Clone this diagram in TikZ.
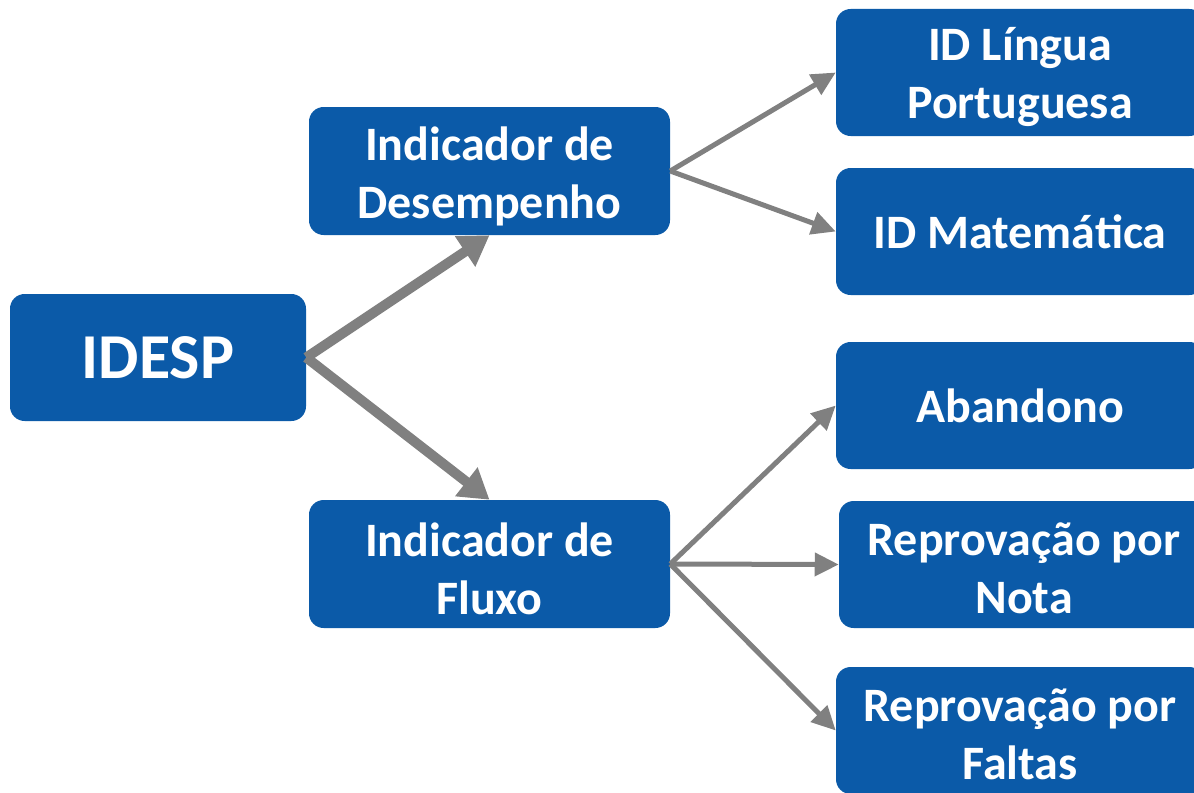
\documentclass[tikz,border=0pt]{standalone}
\usepackage{fontspec}
\setmainfont{Carlito}
\usetikzlibrary{arrows.meta}
\definecolor{boxblue}{RGB}{11,90,168}
\definecolor{arrgray}{RGB}{128,128,128}
\begin{document}
\begin{tikzpicture}[x=0.75pt,y=-0.75pt,
  box/.style={fill=boxblue, rounded corners=11pt, text=white, font=\bfseries\fontsize{36}{43.5}\selectfont, align=center, inner sep=0pt, minimum height=95.25pt},
  midbox/.style={box, minimum width=270.75pt, minimum height=96pt},
  leafbox/.style={box, minimum width=276pt},
  lbl/.style={text=white, font=\bfseries\fontsize{36}{43.5}\selectfont, align=center, inner sep=0pt},
  bigarr/.style={draw=arrgray, line width=7.5pt, -{Triangle[length=22pt,width=26pt]}},
  smallarr/.style={draw=arrgray, line width=3.75pt, -{Triangle[length=18pt,width=17pt]}}]
\useasboundingbox (0,0) rectangle (1194,792);
\begin{scope}
\clip (0,0) rectangle (1194,792);
\node[box, minimum width=222pt, font=\bfseries\fontsize{48}{58}\selectfont] (idesp) at (158,357.5) {IDESP};
\node[midbox] (des) at (489.5,171) {};
\node[lbl] (des-t) at ([yshift=-3.75pt]des.center) {Indicador de\\Desempenho};
\node[midbox] (flu) at (489.5,564) {};
\node[lbl] (flu-t) at ([yshift=-3.75pt]flu.center) {Indicador de\\Fluxo};
\node[leafbox] (lin) at (1020,72.5) {};
\node[lbl] (lin-t) at ([yshift=-3pt]lin.center) {ID Língua\\Portuguesa};
\node[leafbox] (mat) at (1020,231.5) {ID Matemática};
\node[leafbox] (aba) at (1020,405.5) {Abandono};
\node[leafbox, minimum width=277.5pt] (not) at (1024,564.5) {};
\node[lbl] (not-t) at ([yshift=-3pt]not.center) {Reprovação por\\Nota};
\node[leafbox] (fal) at (1020,730.5) {};
\node[lbl] (fal-t) at ([yshift=-3pt]fal.center) {Reprovação por\\Faltas};
\end{scope}
\draw[bigarr] (idesp.east) -- (des.south);
\draw[bigarr] (idesp.east) -- (flu.north);
\draw[smallarr] (des.east) -- (lin.west);
\draw[smallarr] (des.east) -- (mat.west);
\draw[smallarr] (flu.east) -- (aba.west);
\draw[smallarr] (flu.east) -- (not.west);
\draw[smallarr] (flu.east) -- (fal.west);
\end{tikzpicture}
\end{document}
